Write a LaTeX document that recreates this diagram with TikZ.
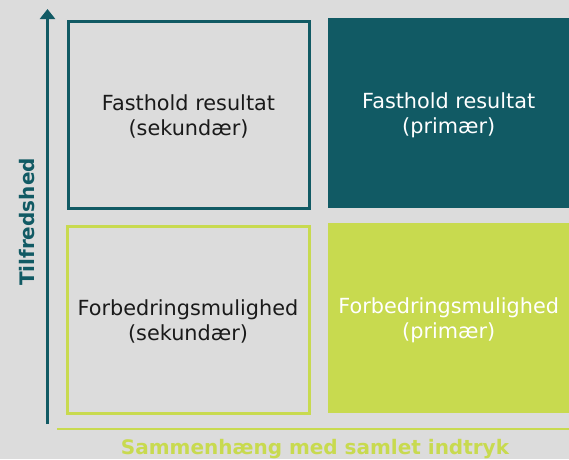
\documentclass[tikz,border=0pt]{standalone}
\usepackage{fontspec}
\setmainfont{DejaVu Sans}
\usetikzlibrary{arrows.meta}
\definecolor{bg}{HTML}{DCDCDC}
\definecolor{teal}{HTML}{115A64}
\definecolor{lime}{HTML}{C8DA4F}
\definecolor{ink}{HTML}{1A1A1A}
\tikzset{
  outlinebox/.style={draw, line width=3pt, fill=bg},
  filledbox/.style={draw=none},
  cell/.style={align=center, font=\fontsize{20.8}{25.5}\selectfont, inner sep=0pt},
  axislabel/.style={font=\fontsize{20}{24}\selectfont\bfseries, inner sep=0pt},
}
\begin{document}
\begin{tikzpicture}[x=1pt,y=-1pt]
\fill[bg] (0,0) rectangle (569,459);
\useasboundingbox (0,0) rectangle (569,459);
% boxes
\node[outlinebox, draw=teal, minimum width=241pt, minimum height=187pt, anchor=north west] (tl) at (66.5,19.5) {};
\node[filledbox, fill=teal, minimum width=241pt, minimum height=190pt, anchor=north west] (tr) at (328,18) {};
\node[outlinebox, draw=lime, minimum width=242pt, minimum height=187pt, anchor=north west] (bl) at (65.5,224.5) {};
\node[filledbox, fill=lime, minimum width=241pt, minimum height=190pt, anchor=north west] (br) at (328,223) {};
% texts
\node[cell, text=ink] (tlt) at ([yshift=-2pt]tl.center) {Fasthold resultat\\(sekundær)};
\node[cell, text=white] (trt) at ([yshift=-2pt]tr.center) {Fasthold resultat\\(primær)};
\node[cell, text=ink] (blt) at ([yshift=-2pt]bl.center) {Forbedringsmulighed\\(sekundær)};
\node[cell, text=white] (brt) at ([yshift=-2pt]br.center) {Forbedringsmulighed\\(primær)};
% axes
\coordinate (ya) at (47.5,424);
\coordinate (yb) at (47.5,9);
\draw[teal, line width=3pt, -{Triangle[width=15pt,length=10pt]}] (ya) -- (yb);
\coordinate (xa) at (57,429);
\coordinate (xb) at (569,429);
\draw[lime, line width=2.7pt] (xa) -- (xb);
\node[axislabel, text=lime, anchor=base] (xl) at (315,454.5) {Sammenhæng med samlet indtryk};
\node[axislabel, text=teal, rotate=90] (yl) at (27,222) {Tilfredshed};
\end{tikzpicture}
\end{document}
